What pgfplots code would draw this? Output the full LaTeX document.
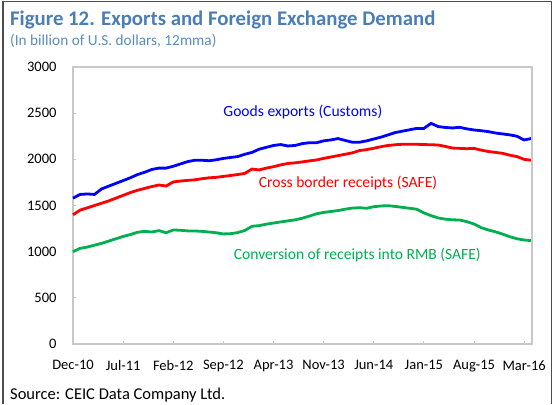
\documentclass[border=0pt]{standalone}
\usepackage{pgfplots}
\pgfplotsset{compat=1.18}
\usepackage{fontspec}
\setmainfont{Carlito}
\definecolor{titleblue}{HTML}{4A7EB4}
\definecolor{subblue}{HTML}{5B8CC0}
\definecolor{sblue}{HTML}{0000FF}
\definecolor{sred}{HTML}{FF0000}
\definecolor{sgreen}{HTML}{00B050}
\definecolor{framegray}{HTML}{C8C8C8}
\begin{document}
\begin{tikzpicture}[x=1bp,y=1bp]
\path[use as bounding box] (0,0) rectangle (556,404);
\draw[line width=1.6bp, color=black!70] (3,0) -- (3,402.5) -- (551.5,402.5) -- (551.5,0);
\node[anchor=base west, inner sep=0, font=\fontsize{20.8bp}{23bp}\selectfont\bfseries, text=titleblue] at (10,379) {Figure 12. Exports and Foreign Exchange Demand};
\node[anchor=base west, inner sep=0, font=\fontsize{15.3bp}{17bp}\selectfont, text=subblue] at (10,359) {(In billion of U.S. dollars, 12mma)};
\node[anchor=base west, inner sep=0, font=\fontsize{16.5bp}{18bp}\selectfont] at (10,5) {Source: CEIC Data Company Ltd.};
\begin{axis}[
  at={(73bp,60bp)}, anchor=south west,
  scale only axis, width=459bp, height=277bp,
  xmin=0, xmax=64.1, ymin=0, ymax=3000,
  xtick={0,7,14,21,28,35,42,49,56,63},
  xticklabels={Dec-10,Jul-11,Feb-12,Sep-12,Apr-13,Nov-13,Jun-14,Jan-15,Aug-15,Mar-16},
  ytick={0,500,1000,1500,2000,2500,3000},
  xtick pos=lower, ytick pos=left,
  tick align=inside, major tick length=3bp,
  axis line style={framegray, line width=1.2bp},
  tick style={framegray, line width=1bp},
  ticklabel style={font=\fontsize{14.5bp}{16bp}\selectfont},
  xticklabel style={yshift=-13bp},
  yticklabel style={xshift=-13bp},
  /pgf/number format/assume math mode=true,
  /pgf/number format/1000 sep={},
  clip=false,
]
\addplot[sblue, line width=2.8bp] coordinates {
(0,1580)(1,1620)(2,1625)(3,1620)(4,1680)(5,1710)(6,1740)(7,1770)(8,1800)(9,1835)
(10,1860)(11,1890)(12,1905)(13,1905)(14,1925)(15,1950)(16,1975)(17,1990)(18,1990)(19,1985)
(20,1995)(21,2010)(22,2020)(23,2030)(24,2055)(25,2075)(26,2110)(27,2130)(28,2150)(29,2160)
(30,2145)(31,2150)(32,2170)(33,2180)(34,2180)(35,2200)(36,2210)(37,2225)(38,2205)(39,2185)
(40,2185)(41,2200)(42,2220)(43,2240)(44,2265)(45,2290)(46,2305)(47,2320)(48,2335)(49,2335)
(50,2390)(51,2355)(52,2345)(53,2340)(54,2347)(55,2330)(56,2318)(57,2310)(58,2300)(59,2285)
(60,2275)(61,2265)(62,2250)(63,2210)(64,2225)};
\addplot[sred, line width=2.8bp] coordinates {
(0,1400)(1,1450)(2,1475)(3,1500)(4,1525)(5,1550)(6,1580)(7,1610)(8,1640)(9,1665)
(10,1685)(11,1705)(12,1722)(13,1711)(14,1755)(15,1765)(16,1772)(17,1778)(18,1790)(19,1800)
(20,1805)(21,1815)(22,1825)(23,1835)(24,1848)(25,1895)(26,1885)(27,1905)(28,1920)(29,1940)
(30,1955)(31,1962)(32,1972)(33,1983)(34,1993)(35,2010)(36,2025)(37,2040)(38,2055)(39,2070)
(40,2095)(41,2105)(42,2120)(43,2137)(44,2150)(45,2158)(46,2163)(47,2163)(48,2163)(49,2160)
(50,2158)(51,2155)(52,2140)(53,2122)(54,2119)(55,2115)(56,2119)(57,2100)(58,2085)(59,2075)
(60,2065)(61,2045)(62,2030)(63,2000)(64,1990)};
\addplot[sgreen, line width=2.8bp] coordinates {
(0,1000)(1,1036)(2,1050)(3,1070)(4,1090)(5,1115)(6,1140)(7,1165)(8,1185)(9,1210)
(10,1220)(11,1213)(12,1228)(13,1205)(14,1235)(15,1232)(16,1225)(17,1224)(18,1220)(19,1213)
(20,1205)(21,1192)(22,1195)(23,1206)(24,1230)(25,1275)(26,1282)(27,1298)(28,1310)(29,1322)
(30,1333)(31,1345)(32,1362)(33,1385)(34,1410)(35,1425)(36,1435)(37,1445)(38,1460)(39,1472)
(40,1476)(41,1470)(42,1487)(43,1495)(44,1498)(45,1490)(46,1480)(47,1470)(48,1460)(49,1420)
(50,1390)(51,1365)(52,1352)(53,1345)(54,1343)(55,1325)(56,1300)(57,1260)(58,1235)(59,1215)
(60,1190)(61,1162)(62,1140)(63,1126)(64,1120)};
\draw[framegray, line width=1.2bp] (axis cs:0,3000) -- (axis cs:64.1,3000) -- (axis cs:64.1,0);
\node[text=sblue, font=\fontsize{15.6bp}{17bp}\selectfont] at (axis cs:32.1,2513) {Goods exports (Customs)};
\node[text=sred, font=\fontsize{15.6bp}{17bp}\selectfont] at (axis cs:38.4,1744) {Cross border receipts (SAFE)};
\node[text=sgreen, font=\fontsize{15.6bp}{17bp}\selectfont] at (axis cs:39.7,964) {Conversion of receipts into RMB (SAFE)};
\end{axis}
\end{tikzpicture}
\end{document}
